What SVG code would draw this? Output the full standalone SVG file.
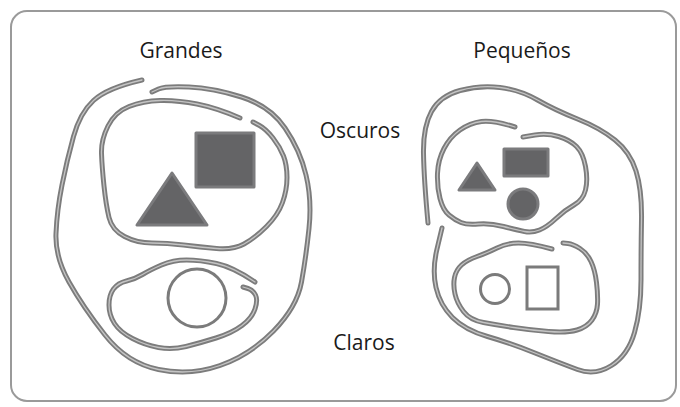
<svg xmlns="http://www.w3.org/2000/svg" xmlns:xlink="http://www.w3.org/1999/xlink" width="680" height="407" viewBox="0 0 680 407">
<style>
.lbl{font-family:"Open Sans","Liberation Sans",sans-serif;font-size:21px;fill:#1a1a1a;text-anchor:middle}
.loop{fill:none;stroke:#7c7c7c;stroke-width:5;stroke-linecap:round;stroke-linejoin:round}
.core{fill:none;stroke:#c4c4c4;stroke-width:1.3;stroke-linecap:round;stroke-linejoin:round}
.dark{fill:#646466;stroke:#7b7b7d;stroke-width:3;stroke-linejoin:round}
.light{fill:#fff;stroke:#7b7b7b;stroke-width:3}
</style>
<defs>
<path id="gOuter" d="M142,80 Q107,88 93.5,100.5 Q80,113 73.5,136.5 Q67,160 62,185 Q57,210 56,233.5 Q55,257 69,282 Q83,307 105,335 Q127,363 158.5,369.5 Q190,376 220,365.5 Q250,355 273.5,331 Q297,307 301.5,282 Q306,257 309,228.5 Q312,200 306,175 Q300,150 285,128 Q270,106 241.5,97 Q213,88 189,87 Q165,86 158.5,89 L152,92"/>
<path id="gDark" d="M240,118 Q217,108 197,104 Q177,100 160,100.5 Q143,101 129,106.5 Q115,112 108,126 Q101,140 101.5,153.5 Q102,167 104,186 Q106,205 109,217.5 Q112,230 124.5,236.5 Q137,243 152,243 Q167,243 183.5,245 Q200,247 216.5,248.5 Q233,250 244,244 Q255,238 266.5,226.5 Q278,215 282.5,202.5 Q287,190 287,177.5 Q287,165 283.5,156 Q280,147 273,138 Q266,129 259.5,125.5 L253,122"/>
<path id="gLight" d="M255,282 Q233,267 216.5,263.5 Q200,260 186.5,260 Q173,260 161.5,265 Q150,270 142.5,274.5 Q135,279 126.5,281 Q118,283 113.5,289 Q109,295 109,305 Q109,315 114.5,323.5 Q120,332 132.5,338.5 Q145,345 158.5,347.5 Q172,350 186,346.5 Q200,343 216,338 Q232,333 242,325.5 Q252,318 255,309 Q258,300 255.5,295 Q253,290 248,288.5 L243,287"/>
<path id="pOuter" d="M428,223 Q424,180 423.5,153.5 Q423,127 431.5,111.5 Q440,96 460,90.5 Q480,85 500,87.5 Q520,90 537.5,100 Q555,110 577.5,119 Q600,128 615,140 Q630,152 636,171 Q642,190 641.5,220 Q641,250 641,280 Q641,310 634.5,332.5 Q628,355 611.5,365.5 Q595,376 577.5,369.5 Q560,363 535,353 Q510,343 487.5,336.5 Q465,330 452.5,317.5 Q440,305 436,287.5 Q432,270 437,249 L442,228"/>
<path id="pDark" d="M515,127 Q493,120 481.5,121.5 Q470,123 460,130 Q450,137 444,148.5 Q438,160 437.5,173.5 Q437,187 440,198.5 Q443,210 449,215 Q455,220 461,222.5 Q467,225 478.5,224 Q490,223 503.5,226.5 Q517,230 524.5,231.5 Q532,233 539.5,230 Q547,227 556,218.5 Q565,210 574,205 Q583,200 585.5,190 Q588,180 585.5,166.5 Q583,153 576.5,146.5 Q570,140 558.5,136.5 Q547,133 535,135 L523,137"/>
<path id="pLight" d="M552,249 Q530,243 518.5,243 Q507,243 497,248 Q487,253 477,256.5 Q467,260 461.5,265 Q456,270 454.5,277.5 Q453,285 455,294 Q457,303 463.5,311.5 Q470,320 483.5,322.5 Q497,325 513.5,327.5 Q530,330 548.5,331.5 Q567,333 577,330 Q587,327 592,320 Q597,313 597.5,304 Q598,295 596.5,282.5 Q595,270 591,261.5 Q587,253 580,248.5 Q573,244 568,243.5 L563,243"/>
</defs>
<rect id="frame" x="11" y="11" width="665" height="390" rx="16" fill="#fff" stroke="#9a9a9a" stroke-width="2"/>
<g id="label-grandes"><text class="lbl" x="181" y="58">Grandes</text></g>
<g id="label-pequenos"><text class="lbl" x="522" y="58">Pequeños</text></g>
<g id="label-oscuros"><text class="lbl" x="360" y="138">Oscuros</text></g>
<g id="label-claros"><text class="lbl" x="364" y="350">Claros</text></g>
<g id="grandes">
<use xlink:href="#gOuter" class="loop"/><use xlink:href="#gOuter" class="core"/>
</g>
<g id="grandes-oscuros">
<use xlink:href="#gDark" class="loop"/><use xlink:href="#gDark" class="core"/>
<rect class="dark" x="196" y="133" width="58" height="54"/>
<polygon class="dark" points="172,173 137,225 207,225"/>
</g>
<g id="grandes-claros">
<use xlink:href="#gLight" class="loop"/><use xlink:href="#gLight" class="core"/>
<circle class="light" cx="197" cy="298" r="29"/>
</g>
<g id="pequenos">
<use xlink:href="#pOuter" class="loop"/><use xlink:href="#pOuter" class="core"/>
</g>
<g id="pequenos-oscuros">
<use xlink:href="#pDark" class="loop"/><use xlink:href="#pDark" class="core"/>
<rect class="dark" x="504" y="149" width="44" height="27"/>
<polygon class="dark" points="477,163 459,190 495,190"/>
<circle class="dark" cx="523" cy="204" r="15"/>
</g>
<g id="pequenos-claros">
<use xlink:href="#pLight" class="loop"/><use xlink:href="#pLight" class="core"/>
<circle class="light" cx="495" cy="289" r="14.5"/>
<rect class="light" x="527" y="267" width="31" height="42"/>
</g>
<g id="connectors"/>
</svg>
